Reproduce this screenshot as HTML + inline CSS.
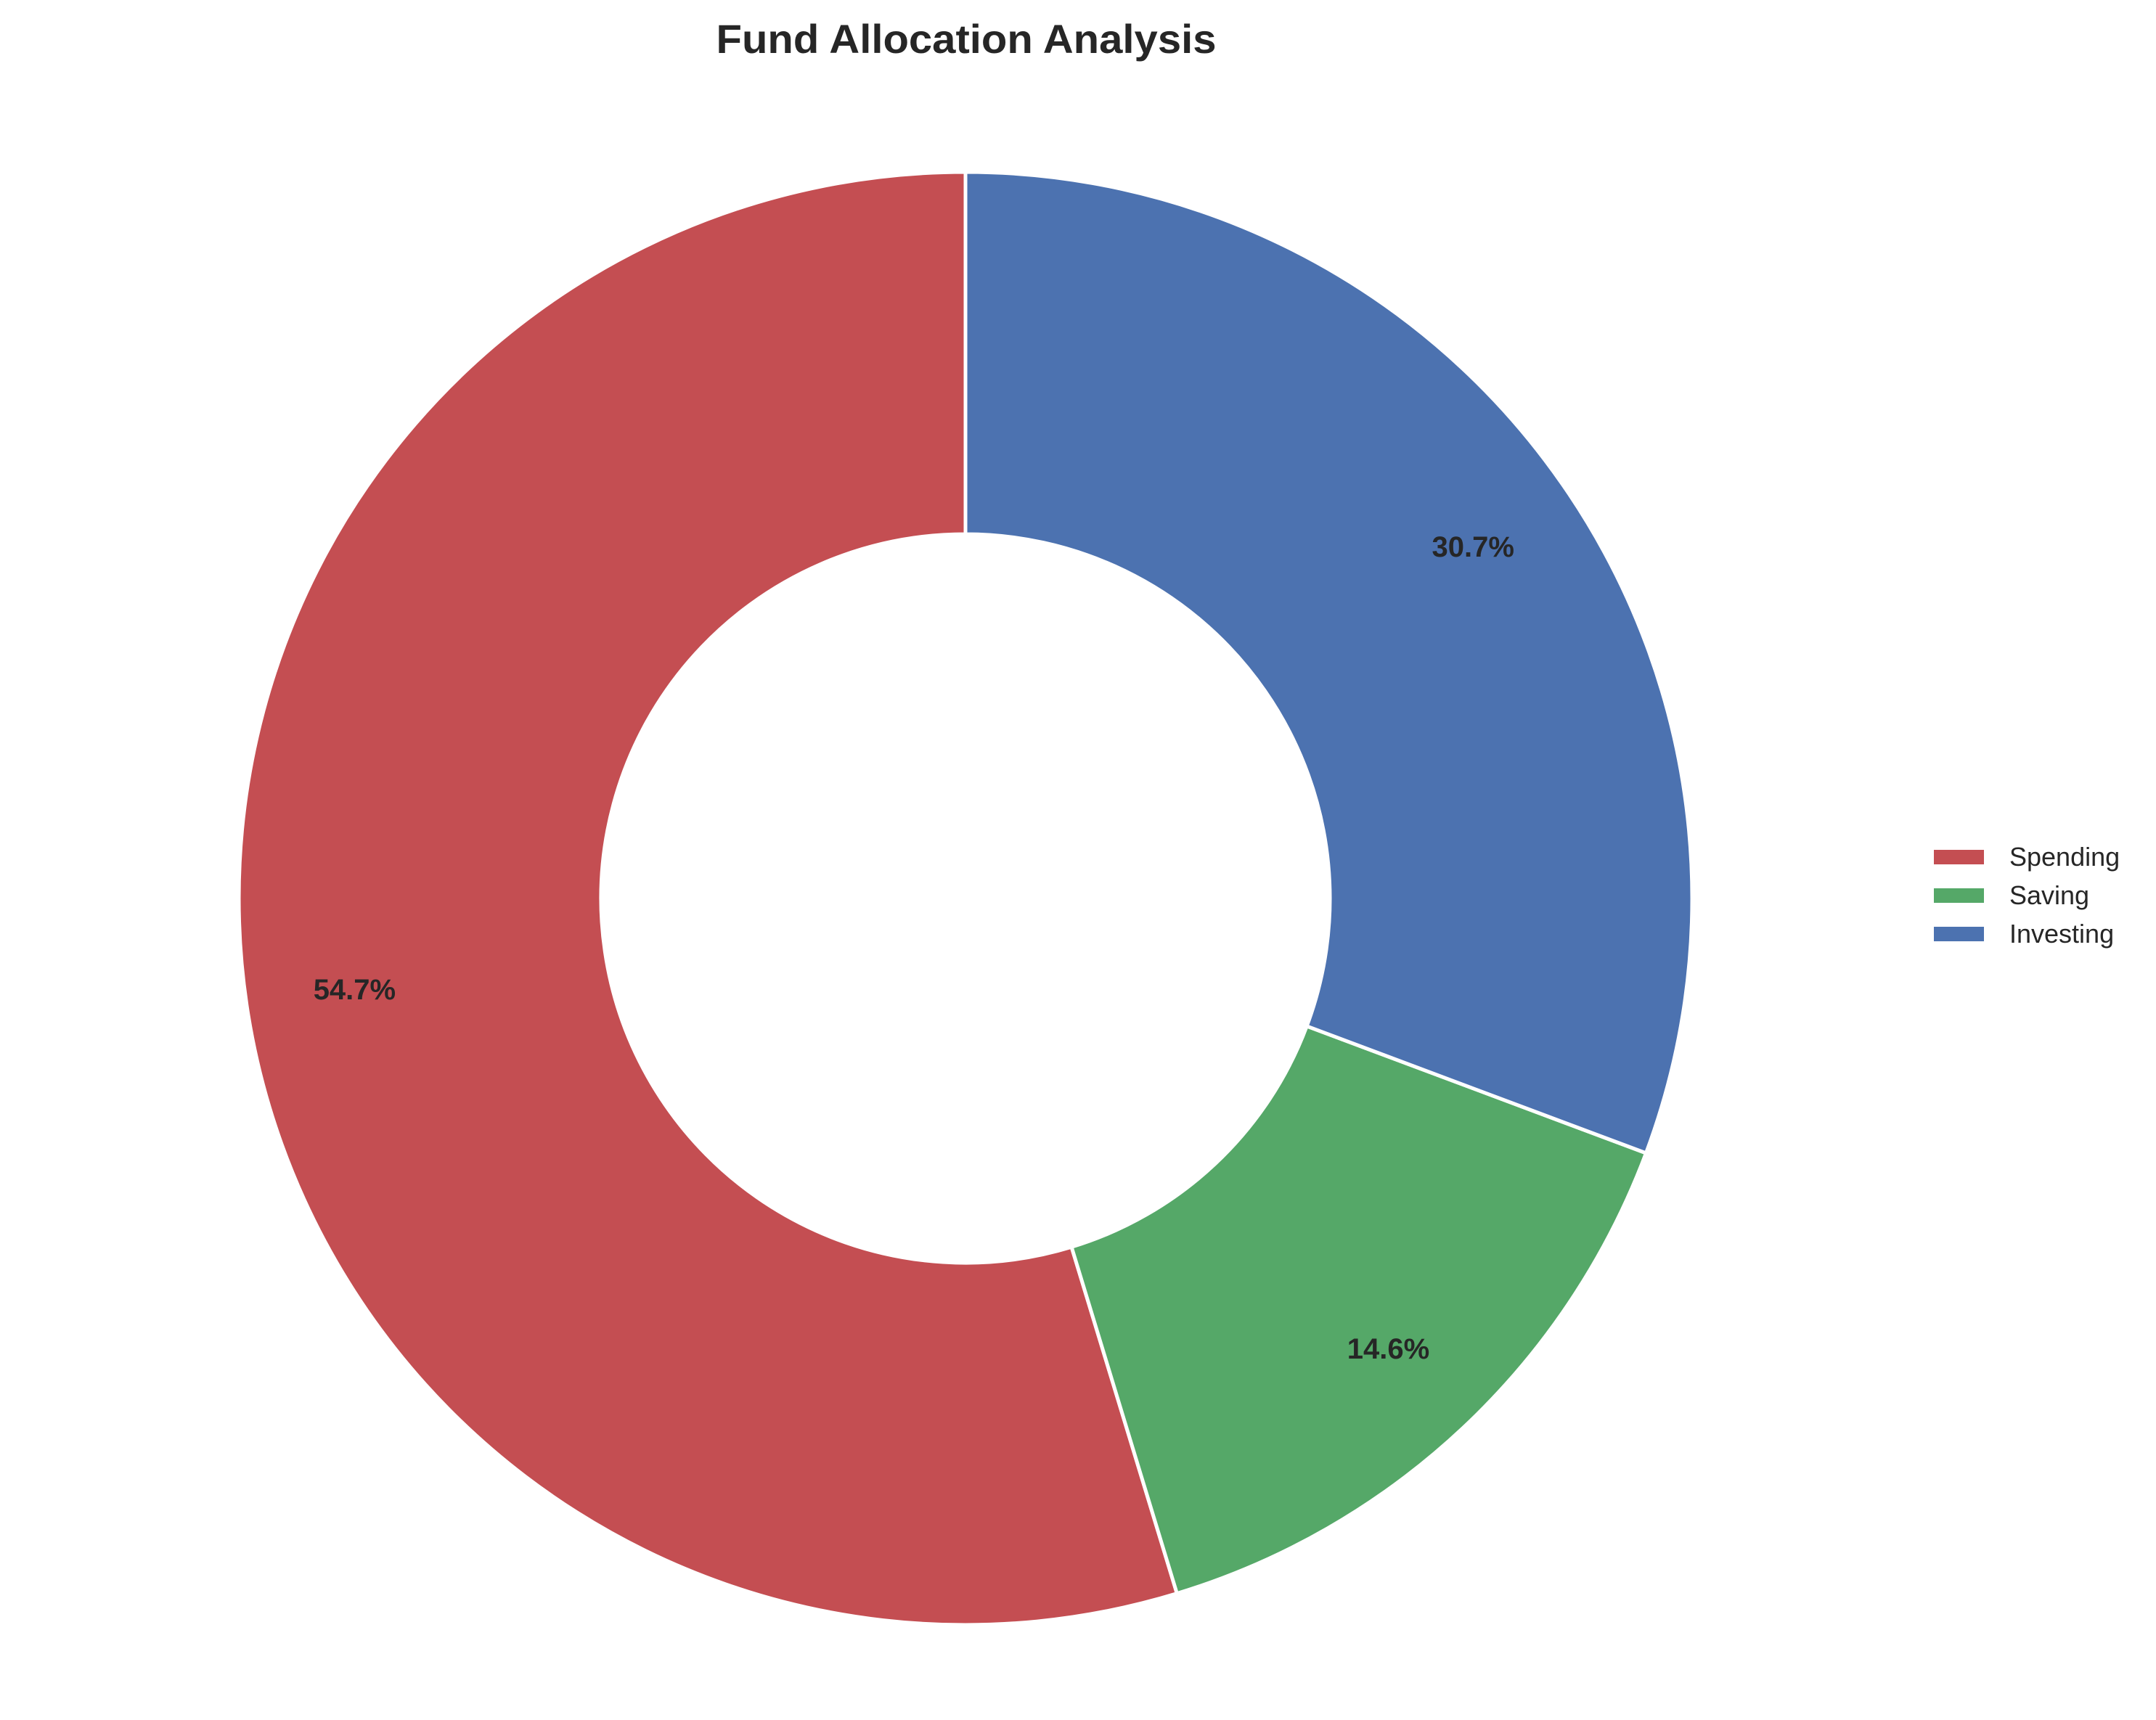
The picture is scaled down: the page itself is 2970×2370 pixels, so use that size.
<!DOCTYPE html>
<html><head><meta charset="utf-8"><style>
html,body{margin:0;padding:0;background:#fff;}
svg{display:block;font-family:"Liberation Sans",Arial,sans-serif;}
</style></head><body>
<svg id="chart" width="2970" height="2370" viewBox="0 0 2970 2370">
<text x="1331" y="73" text-anchor="middle" font-size="56" font-weight="bold" fill="#262626" textLength="689" lengthAdjust="spacingAndGlyphs">Fund Allocation Analysis</text>
<g id="slices"></g>
<g id="labels"></g>
<g id="legend"></g>
</svg>
<script>
const categories = ["Spending", "Saving", "Investing"];
const values = [54.7, 14.6, 30.7];
const colors = ["#c44e52", "#55a868", "#4c72b0"];

const NS = "http://www.w3.org/2000/svg";
const cx = 1330, cy = 1238, R = 1001, r = 502;
const total = values.reduce((a, b) => a + b, 0);
function pt(rad, deg) {
  const a = deg * Math.PI / 180;
  return [cx + rad * Math.cos(a), cy - rad * Math.sin(a)];
}
const slices = document.getElementById('slices');
const labels = document.getElementById('labels');
const legend = document.getElementById('legend');
let start = 90;
values.forEach((v, i) => {
  const sweep = v / total * 360;
  const end = start + sweep;
  const large = sweep > 180 ? 1 : 0;
  const [x1, y1] = pt(R, start), [x2, y2] = pt(R, end);
  const [x3, y3] = pt(r, end), [x4, y4] = pt(r, start);
  const p = document.createElementNS(NS, 'path');
  p.setAttribute('d', `M${x1},${y1} A${R},${R} 0 ${large} 0 ${x2},${y2} L${x3},${y3} A${r},${r} 0 ${large} 1 ${x4},${y4} Z`);
  p.setAttribute('fill', colors[i]);
  p.setAttribute('stroke', '#fff');
  p.setAttribute('stroke-width', '5');
  
  
  slices.appendChild(p);
  const [lx, ly] = pt(R * 0.85, start + sweep / 2);
  const t = document.createElementNS(NS, 'text');
  t.setAttribute('x', lx);
  t.setAttribute('y', ly + 14);
  t.setAttribute('text-anchor', 'middle');
  t.setAttribute('font-size', '40');
  t.setAttribute('font-weight', 'bold');
  t.setAttribute('fill', '#262626');
  t.textContent = (v / total * 100).toFixed(1) + '%';
  
  
  labels.appendChild(t);
  start = end;
  const ry = 1171 + i * 53;
  const rect = document.createElementNS(NS, 'rect');
  rect.setAttribute('x', 2664);
  rect.setAttribute('y', ry);
  rect.setAttribute('width', 69);
  rect.setAttribute('height', 20);
  rect.setAttribute('fill', colors[i]);
  
  
  legend.appendChild(rect);
  const lt = document.createElementNS(NS, 'text');
  lt.setAttribute('x', 2768);
  lt.setAttribute('y', ry + 22);
  lt.setAttribute('font-size', '36');
  lt.setAttribute('fill', '#262626');
  lt.textContent = categories[i];
  
  
  legend.appendChild(lt);
});
</script>
</body></html>
